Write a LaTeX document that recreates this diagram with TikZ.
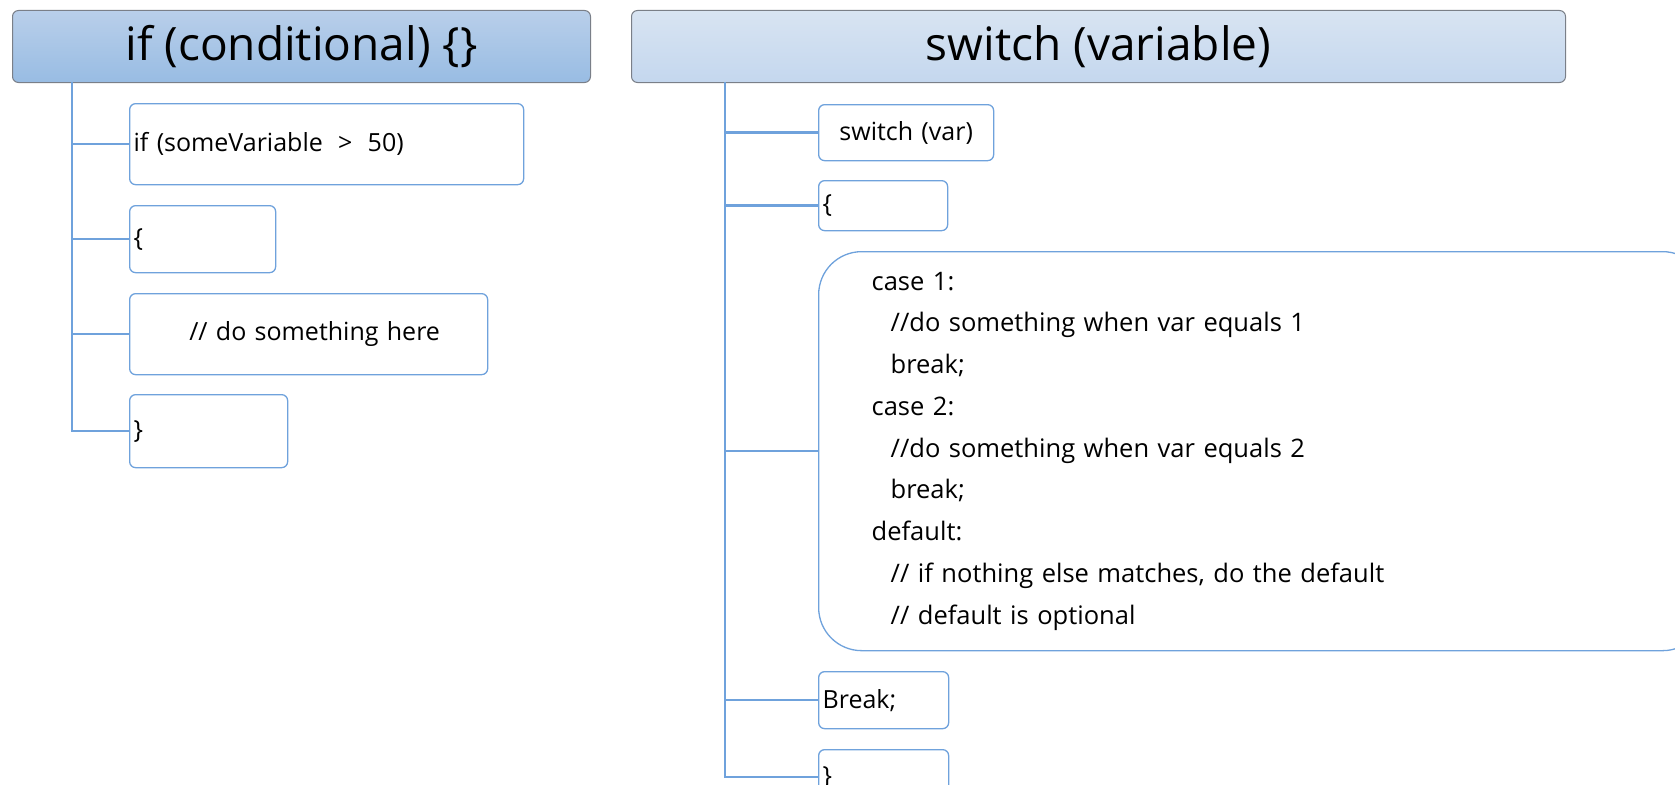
\documentclass[tikz,border=0pt]{standalone}
\usepackage{fontspec}
\setmainfont{Open Sans}
\usetikzlibrary{positioning}

\definecolor{treeBlue}{HTML}{6FA2DC}
\definecolor{headEdge}{HTML}{7A7F88}
\definecolor{ifTop}{HTML}{B9CFEA}
\definecolor{ifBottom}{HTML}{98BCE3}
\definecolor{swTop}{HTML}{D8E4F2}
\definecolor{swBottom}{HTML}{C4D7EE}

\tikzset{
    header/.style={draw=headEdge, line width=1pt, rounded corners=6pt,
        anchor=north west, minimum height=72pt, inner sep=0pt,
        font=\fontsize{46}{54}\selectfont},
    leaf/.style={draw=treeBlue, line width=1.3pt, rounded corners=6pt,
        anchor=north west, fill=white, align=left, inner xsep=4pt, inner ysep=0pt,
        font=\fontsize{25}{30}\selectfont},
    branch/.style={draw=treeBlue, line width=2.6pt},
}

\begin{document}
\begin{tikzpicture}[x=1pt, y=-1pt]
    \def\xl{72};
    \def\xr{725};
    \def\bl{129};
    \def\br{818};

    \useasboundingbox (0,0) rectangle (1675,784);

% headers
    \node[header, top color=ifTop, bottom color=ifBottom, minimum width=578pt] (ifHead) at (12, 10) {if (conditional) \{\}};
    \node[header, top color=swTop, bottom color=swBottom, minimum width=934pt] (swHead) at (631, 10) {switch (variable)};

% boxes under if
    \node[leaf, text width=386pt, minimum height=81pt] (ifA) at (\bl, 103) {if (someVariable \;>\; 50)};
    \node[leaf, text width=138pt, minimum height=67pt] (ifB) at (\bl, 205) {\{};
    \node[leaf, text width=350pt, minimum height=81pt, align=center] (ifC) at (\bl, 293) {\hspace*{12pt}// do something here};
    \node[leaf, text width=150pt, minimum height=73pt] (ifD) at (\bl, 394) {\}};

    \coordinate (ifRoot) at (\xl, 82);
    \draw[branch] (ifRoot) |- (ifD.west);
    \foreach \n in {ifA, ifB, ifC}
        \draw[branch] (ifRoot |- \n.west) -- (\n.west);

% boxes under switch
    \node[leaf, text width=167pt, minimum height=56pt, align=center] (swA) at (\br, 104) {switch (var)};
    \node[leaf, text width=121pt, minimum height=50pt] (swB) at (\br, 180) {\{};
    \node[leaf, rounded corners=43pt, inner xsep=53pt, text width=781pt, minimum height=399pt,
        font=\fontsize{25.5}{41.75}\selectfont] (swC) at (\br, 251) {case 1:\\
        \hspace*{19pt}//do something when var equals 1\\
        \hspace*{19pt}break;\\
        case 2:\\
        \hspace*{19pt}//do something when var equals 2\\
        \hspace*{19pt}break;\\
        default:\\
        \hspace*{19pt}// if nothing else matches, do the default\\
        \hspace*{19pt}// default is optional};
    \node[leaf, text width=122pt, minimum height=57pt] (swD) at (\br, 671) {Break;};
    \node[leaf, text width=122pt, minimum height=55pt] (swE) at (\br, 749) {\}};

    \coordinate (swRoot) at (\xr, 82);
    \draw[branch] (swRoot) |- (swE.west);
    \foreach \n in {swA, swB, swC, swD}
        \draw[branch] (swRoot |- \n.west) -- (\n.west);

\end{tikzpicture}
\end{document}
